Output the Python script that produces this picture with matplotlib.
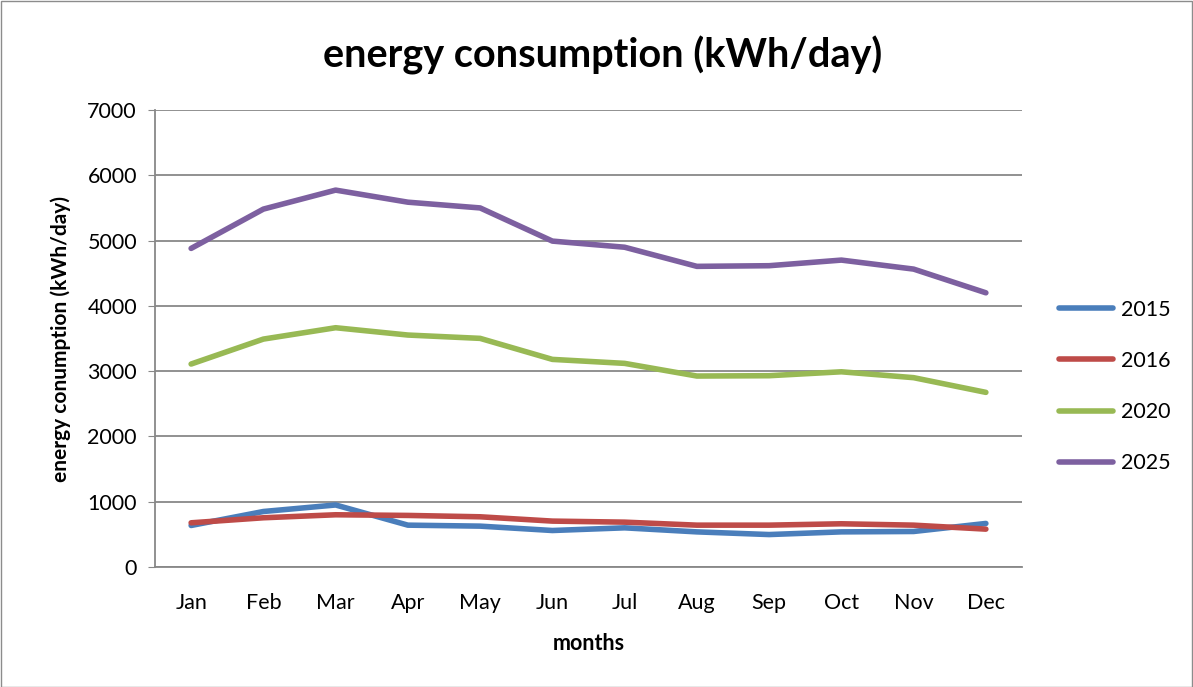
import matplotlib
matplotlib.use("Agg")
import matplotlib.pyplot as plt
from matplotlib.patches import Rectangle

# --- data ---
months = ['Jan', 'Feb', 'Mar', 'Apr', 'May', 'Jun', 'Jul', 'Aug', 'Sep', 'Oct', 'Nov', 'Dec']
y2015 = [636, 850, 950, 641, 626, 559, 600, 538, 497, 538, 544, 667]
y2016 = [677, 754, 800, 790, 769, 703, 687, 641, 641, 662, 641, 580]
y2020 = [3109, 3491, 3665, 3553, 3502, 3180, 3119, 2925, 2930, 2990, 2900, 2675]
y2025 = [4880, 5482, 5773, 5588, 5500, 4992, 4898, 4605, 4615, 4701, 4563, 4200]
series_names = ['2015', '2016', '2020', '2025']
colors = ['#4A7EBB', '#BE4B48', '#98B954', '#7D60A0']

plt.rcParams['font.family'] = ['Lato', 'DejaVu Sans']

W, H = 1193, 687
fig = plt.figure(figsize=(W / 100, H / 100), dpi=100)
fig.patches.append(Rectangle((0.5 / W, 0.5 / H), 1 - 1.5 / W, 1 - 1.5 / H,
                             transform=fig.transFigure, fill=False,
                             edgecolor='#8c8c8c', linewidth=1))

# axes placed in pixel terms
left, right, top, bottom = 155, 1022, 110, 567
ax = fig.add_axes([left / W, 1 - bottom / H, (right - left) / W, (bottom - top) / H])

x = range(len(months))
for vals, name, c in zip([y2015, y2016, y2020, y2025], series_names, colors):
    ax.plot(x, vals, color=c, linewidth=4, label=name, solid_capstyle='round')

ax.set_xlim(-0.5, 11.5)
ax.set_ylim(0, 7000)
ax.set_yticks(range(0, 7001, 1000))
ax.set_xticks(list(x))
ax.set_xticklabels(months)
ax.grid(axis='y', color='#888888', linewidth=1.3)
ax.set_axisbelow(True)
for s in ['top', 'right']:
    ax.spines[s].set_visible(False)
ax.spines['left'].set_color('#888888')
ax.spines['bottom'].set_color('#888888')
ax.spines['left'].set_linewidth(1.3)
ax.spines['bottom'].set_linewidth(1.3)
ax.tick_params(axis='y', length=5, color='#888888', labelsize=15.5, pad=8)
ax.tick_params(axis='x', length=0, labelsize=15.5, pad=19)

ax.set_xlabel('months', fontsize=15.5, fontweight='bold', labelpad=14)
ax.set_ylabel('energy conumption (kWh/day)', fontsize=15, fontweight='bold', labelpad=12)
fig.text(603 / W, 1 - 55 / H, 'energy consumption (kWh/day)', ha='center', va='center',
         fontsize=28.5, fontweight='bold')

ax.legend(loc='center left', bbox_to_anchor=(1.02, 0.395), frameon=False, fontsize=15.5,
          handlelength=2.5, labelspacing=1.45, handletextpad=0.4)

fig.savefig('out.png', dpi=100)
